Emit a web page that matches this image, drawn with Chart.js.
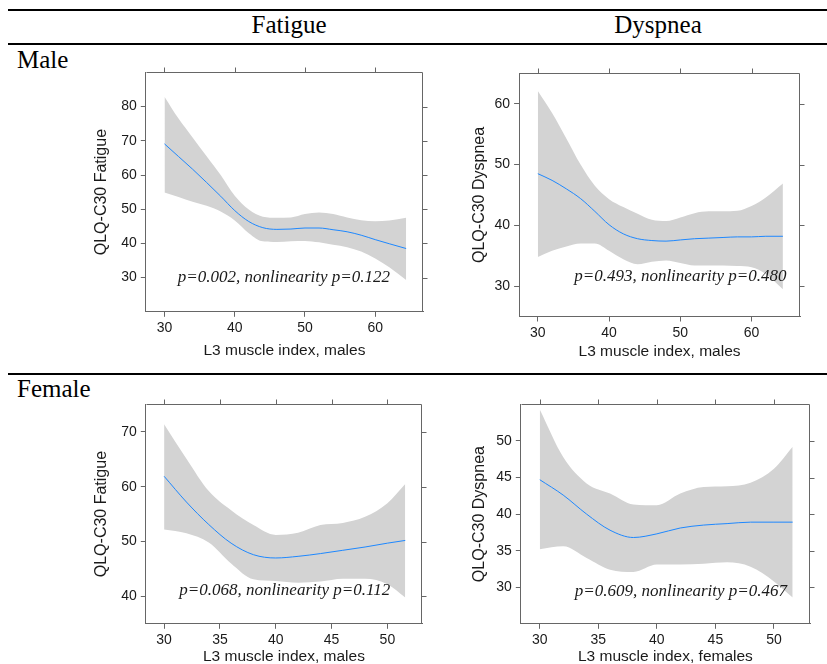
<!DOCTYPE html>
<html>
<head>
<meta charset="utf-8">
<script src="https://cdn.jsdelivr.net/npm/chart.js@4.4.1/dist/chart.umd.min.js"></script>
<style>
  body{margin:0;background:#fff;}
  #page{position:relative;width:827px;height:664px;overflow:hidden;font-family:"Liberation Serif","Times New Roman",serif;}
  .rule{position:absolute;left:8px;width:819px;height:2px;background:#000;}
  .lbl{position:absolute;font-size:25px;line-height:25px;white-space:nowrap;color:#000;}
  canvas{position:absolute;}
</style>
</head>
<body>
<div id="page">
  <div class="rule" style="top:9px"></div>
  <div class="rule" style="top:43px"></div>
  <div class="rule" style="top:373px"></div>
  <div class="lbl" style="left:289px;top:12px;transform:translateX(-50%)">Fatigue</div>
  <div class="lbl" style="left:658px;top:12px;transform:translateX(-50%)">Dyspnea</div>
  <div class="lbl" style="left:17px;top:47px">Male</div>
  <div class="lbl" style="left:17px;top:376px">Female</div>
  <canvas id="c1"></canvas>
  <canvas id="c2"></canvas>
  <canvas id="c3"></canvas>
  <canvas id="c4"></canvas>
</div>
<script>
// ── DATA ──────────────────────────────────────────────
// Male, fatigue
var maleX          = [30, 32, 34, 36, 38, 40, 42, 44, 46, 48, 50, 52, 54, 56, 58, 60, 62, 64.4];
var maleFatFit     = [69.1, 65.4, 61.7, 57.8, 53.8, 49.6, 46.4, 44.6, 44.1, 44.2, 44.5, 44.5, 44.0, 43.4, 42.4, 41.1, 39.9, 38.5];
var maleFatUpper   = [82.9, 76.5, 71.0, 65.5, 60.0, 53.9, 49.9, 47.8, 47.5, 47.6, 48.6, 49.0, 48.6, 47.6, 46.8, 46.5, 46.7, 47.5];
var maleFatLower   = [54.9, 53.6, 52.2, 51.0, 49.3, 46.7, 43.0, 40.6, 40.4, 40.6, 40.7, 40.3, 39.6, 38.9, 37.6, 35.6, 33.0, 29.3];
// Male, dyspnea
var maleDysFit     = [48.5, 47.4, 46.0, 44.4, 42.3, 40.1, 38.6, 37.8, 37.5, 37.4, 37.6, 37.8, 37.9, 38.0, 38.1, 38.1, 38.2, 38.2];
var maleDysUpper   = [62.1, 58.5, 54.3, 50.0, 46.5, 44.3, 43.0, 41.9, 40.9, 40.7, 41.3, 42.0, 42.3, 42.3, 42.4, 43.2, 44.6, 46.9];
var maleDysLower   = [34.8, 35.8, 36.5, 37.0, 37.0, 35.8, 34.4, 33.6, 34.0, 34.2, 33.8, 33.4, 33.4, 33.4, 33.3, 33.1, 32.0, 29.5];
// Female, fatigue
var femaleX        = [30, 32, 34, 36, 38, 40, 42, 44, 46, 48, 50, 51.6];
var femFatFit      = [61.9, 57.2, 53.1, 49.7, 47.6, 47.0, 47.3, 47.8, 48.4, 49.0, 49.7, 50.2];
var femFatUpper    = [71.4, 65.1, 59.2, 55.7, 53.0, 51.2, 51.6, 53.0, 53.4, 54.5, 57.0, 60.5];
var femFatLower    = [52.2, 51.5, 49.8, 46.0, 43.1, 42.8, 42.5, 42.7, 43.2, 43.2, 42.2, 39.8];
// Female, dyspnea
var femDysFit      = [44.7, 42.6, 40.0, 37.8, 36.8, 37.3, 38.1, 38.5, 38.7, 38.9, 38.9, 38.9];
var femDysUpper    = [54.3, 47.8, 44.2, 42.8, 41.3, 41.2, 42.8, 43.7, 43.8, 44.3, 46.2, 49.2];
var femDysLower    = [35.2, 35.6, 34.0, 32.4, 32.1, 33.1, 33.1, 33.2, 33.4, 32.8, 30.8, 28.6];

// tick labels
var maleXTicks     = [30, 40, 50, 60];
var femaleXTicks   = [30, 35, 40, 45, 50];
var maleFatYTicks  = [30, 40, 50, 60, 70, 80];
var maleDysYTicks  = [30, 40, 50, 60];
var femFatYTicks   = [40, 50, 60, 70];
var femDysYTicks   = [30, 35, 40, 45, 50];

// p-value notes
var pNotes = [
  'p=0.002, nonlinearity p=0.122',
  'p=0.493, nonlinearity p=0.480',
  'p=0.068, nonlinearity p=0.112',
  'p=0.609, nonlinearity p=0.467'
];

// ── PANEL LAYOUT ──────────────────────────────────────
var panels = [
  { id:'c1', box:{l:146, t:70.3, r:423.3, b:312.3}, yTitleX:101.7, xTitleY:351,
    xr:[27.34, 66.8], yr:[20, 90], xTicks:maleXTicks, yTicks:maleFatYTicks,
    xs:maleX, fit:maleFatFit, hi:maleFatUpper, lo:maleFatLower,
    yTitle:'QLQ-C30 Fatigue', xTitle:'L3 muscle index, males', note:pNotes[0], noteAt:[47.0, 30.0] },
  { id:'c2', box:{l:519.3, t:70.7, r:800, b:316}, yTitleX:479.7, xTitleY:351,
    xr:[27.37, 66.8], yr:[25, 65], xTicks:maleXTicks, yTicks:maleDysYTicks,
    xs:maleX, fit:maleDysFit, hi:maleDysUpper, lo:maleDysLower,
    yTitle:'QLQ-C30 Dyspnea', xTitle:'L3 muscle index, males', note:pNotes[1], noteAt:[50.0, 31.6] },
  { id:'c3', box:{l:146, t:401.7, r:421.7, b:623.3}, yTitleX:101.7, xTitleY:656,
    xr:[28.36, 53.1], yr:[35, 75], xTicks:femaleXTicks, yTicks:femFatYTicks,
    xs:femaleX, fit:femFatFit, hi:femFatUpper, lo:femFatLower,
    yTitle:'QLQ-C30 Fatigue', xTitle:'L3 muscle index, males', note:pNotes[2], noteAt:[40.8, 41.1] },
  { id:'c4', box:{l:521, t:401.7, r:810, b:623.3}, yTitleX:479.7, xTitleY:656,
    xr:[28.38, 53.08], yr:[25, 55], xTicks:femaleXTicks, yTicks:femDysYTicks,
    xs:femaleX, fit:femDysFit, hi:femDysUpper, lo:femDysLower,
    yTitle:'QLQ-C30 Dyspnea', xTitle:'L3 muscle index, females', note:pNotes[3], noteAt:[42.05, 29.4] }
];

var AXIS = '#666';
var TEXT = '#1a1a1a';
var SANS = '"Liberation Sans", Arial, sans-serif';
var PAD_T = 10, PAD_R = 12, TITLE_HALF = 9.5;

function pts(xs, ys){
  return xs.map(function(x, i){ return {x:x, y:ys[i]}; });
}

// box, top/right ticks and the p-value note
var framePlugin = {
  id:'frame',
  afterDraw:function(chart){
    var ctx = chart.ctx, a = chart.chartArea;
    var xs = chart.scales.x, ys = chart.scales.y;
    var o = chart.options.plugins.frame;
    ctx.save();
    ctx.strokeStyle = AXIS; ctx.lineWidth = 1;
    var L = Math.round(a.left) + .5, R = Math.round(a.right) - .5, T = Math.round(a.top) + .5, B = Math.round(a.bottom) - .5;
    ctx.beginPath();
    ctx.moveTo(L, T); ctx.lineTo(R, T); ctx.lineTo(R, B);
    xs.ticks.forEach(function(t){
      var px = Math.round(xs.getPixelForValue(t.value)) + .5;
      ctx.moveTo(px, T); ctx.lineTo(px, T - 5);
    });
    ys.ticks.forEach(function(t){
      var py = Math.round(ys.getPixelForValue(t.value)) + .5;
      ctx.moveTo(R, py); ctx.lineTo(R + 5, py);
    });
    ctx.stroke();
    ctx.fillStyle = TEXT;
    ctx.font = 'italic 17px "Liberation Serif", "Times New Roman", serif';
    ctx.textAlign = 'center'; ctx.textBaseline = 'middle';
    ctx.fillText(o.note, xs.getPixelForValue(o.noteAt[0]), ys.getPixelForValue(o.noteAt[1]));
    ctx.restore();
  }
};

function makePanel(p){
  var cv = document.getElementById(p.id);
  var left = p.yTitleX - TITLE_HALF;
  var top = p.box.t - PAD_T;
  var right = p.box.r + PAD_R;
  var bottom = p.xTitleY + TITLE_HALF;
  cv.style.left = left + 'px';
  cv.style.top = top + 'px';
  cv.width = Math.round(right - left);
  cv.height = Math.round(bottom - top);
  var yW = p.box.l - left;
  var xH = bottom - p.box.b;

  new Chart(cv, {
    type:'line',
    data:{ datasets:[
      { data:pts(p.xs, p.hi), order:2, borderColor:'rgba(0,0,0,0)', borderWidth:1, pointRadius:0, fill:false, cubicInterpolationMode:'monotone' },
      { data:pts(p.xs, p.lo), order:1, borderColor:'rgba(0,0,0,0)', borderWidth:1, pointRadius:0, fill:'-1', backgroundColor:'#d3d3d3', cubicInterpolationMode:'monotone' },
      { data:pts(p.xs, p.fit), order:0, borderColor:'#1e88ff', borderWidth:1, pointRadius:0, fill:false, cubicInterpolationMode:'monotone' }
    ]},
    options:{
      responsive:false, animation:false, devicePixelRatio:1,
      layout:{ padding:{ top:PAD_T, right:PAD_R, left:0, bottom:0 } },
      plugins:{ legend:{display:false}, tooltip:{enabled:false}, frame:{ note:p.note, noteAt:p.noteAt } },
      scales:{
        x:{
          type:'linear', min:p.xr[0], max:p.xr[1],
          afterBuildTicks:function(s){ s.ticks = p.xTicks.map(function(v){ return {value:v}; }); },
          afterFit:function(s){ s.height = xH; },
          grid:{ drawOnChartArea:false, tickLength:5, color:AXIS },
          border:{ color:AXIS },
          ticks:{ color:TEXT, font:{family:SANS, size:14}, padding:3, maxRotation:0, autoSkip:false },
          title:{ display:true, text:p.xTitle, color:TEXT, padding:0, font:{family:SANS, size:15.5} }
        },
        y:{
          type:'linear', min:p.yr[0], max:p.yr[1],
          afterBuildTicks:function(s){ s.ticks = p.yTicks.map(function(v){ return {value:v}; }); },
          afterFit:function(s){ s.width = yW; },
          grid:{ drawOnChartArea:false, tickLength:5, color:AXIS },
          border:{ color:AXIS },
          ticks:{ color:TEXT, font:{family:SANS, size:14}, padding:4, autoSkip:false },
          title:{ display:true, text:p.yTitle, color:TEXT, padding:0, font:{family:SANS, size:16} }
        }
      }
    },
    plugins:[framePlugin]
  });
}

panels.forEach(makePanel);
</script>
</body>
</html>
